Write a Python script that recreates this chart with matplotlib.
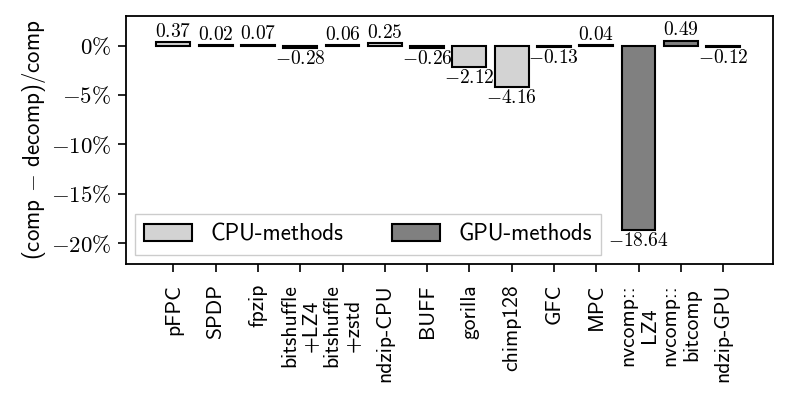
import numpy as np
import matplotlib
matplotlib.use('Agg')
import matplotlib.pyplot as plt
from matplotlib.patches import Patch

plt.rcParams['mathtext.fontset'] = 'cm'
plt.rcParams['font.family'] = ['cmss10', 'DejaVu Sans']
plt.rcParams['axes.formatter.use_mathtext'] = True

# data
methods = ['pFPC', 'SPDP', 'fpzip', 'bitshuffle\n+LZ4', 'bitshuffle\n+zstd', 'ndzip-CPU',
           'BUFF', 'gorilla', 'chimp128', 'GFC', 'MPC', 'nvcomp::\nLZ4', 'nvcomp::\nbitcomp',
           'ndzip-GPU']
values = [0.37, 0.02, 0.07, -0.28, 0.06, 0.25, -0.26, -2.12, -4.16, -0.13, 0.04, -18.64, 0.49, -0.12]
kind = ['CPU', 'CPU', 'CPU', 'CPU', 'CPU', 'CPU', 'CPU', 'CPU', 'CPU', 'GPU', 'GPU', 'GPU', 'GPU', 'GPU']
yticks = [0, -5, -10, -15, -20]

cpu_col = '#d3d3d3'
gpu_col = '#808080'

fig = plt.figure(figsize=(7.9, 4.03), dpi=100)
ax = fig.add_axes([0.1595, 0.345, 0.819, 0.6155])

x = np.arange(len(methods))
cols = [cpu_col if k == 'CPU' else gpu_col for k in kind]
ax.bar(x, values, width=0.8, color=cols, edgecolor='black', linewidth=1.5)

for xi, v in zip(x, values):
    if v >= 0:
        ax.annotate(r'$%.2f$' % v, (xi, v), xytext=(0, 1), textcoords='offset points',
                    ha='center', va='bottom', fontsize=14)
    else:
        ax.annotate(r'$%.2f$' % v, (xi, v), xytext=(0, -1.5), textcoords='offset points',
                    ha='center', va='top', fontsize=14)

ax.set_xlim(-1.12, 14.18)
ax.set_ylim(-22.1, 3.0)
ax.set_xticks(x)
ax.set_xticklabels(methods, rotation=90, fontsize=15.5, linespacing=1.15)
ax.set_yticks(yticks)
ax.set_yticklabels([r'$%d\%%$' % t for t in yticks], fontsize=16.5)
ax.tick_params(axis='both', direction='out', length=5.5, width=1.2, pad=5)
ax.tick_params(axis='x', pad=9)
for s in ax.spines.values():
    s.set_linewidth(1.3)
ax.set_ylabel(r'(comp $-$ decomp)/comp', fontsize=16.5, labelpad=2)

handles = [Patch(facecolor=cpu_col, edgecolor='black', linewidth=1.5, label='CPU-methods'),
           Patch(facecolor=gpu_col, edgecolor='black', linewidth=1.5, label='GPU-methods')]
leg = ax.legend(handles=handles, loc='lower left', ncol=2, fontsize=16.5, fancybox=False,
                framealpha=1, edgecolor='#cccccc', columnspacing=2.1, handlelength=2.1,
                handleheight=0.8, handletextpad=0.8, borderaxespad=0.4)

plt.savefig('out.png', dpi=100)
